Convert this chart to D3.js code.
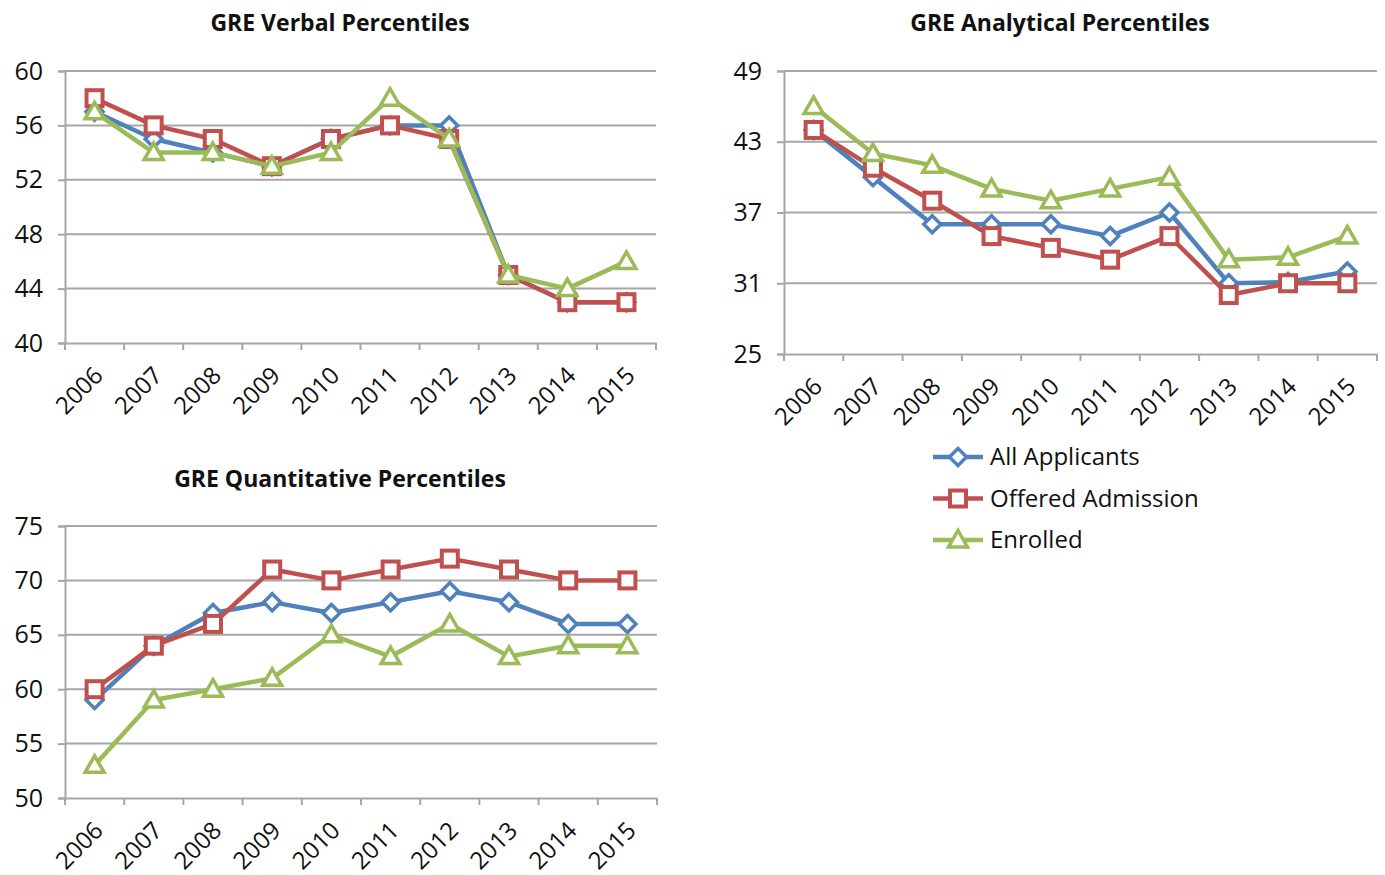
<!DOCTYPE html>
<html lang="en">
<head>
  <meta charset="UTF-8">
  <title>GRE Percentiles</title>
  <script src="https://d3js.org/d3.v7.min.js"></script>
  <style>
    html, body { margin: 0; padding: 0; background: #fff; }
    svg text { font-family: "Open Sans", Lato, sans-serif; fill: #111; }
    .title { font-weight: bold; font-size: 23px; }
    .tick text { font-size: 25px; }
    .x-axis .tick text { font-size: 24px; }
  </style>
</head>
<body>
  <div id="container"></div>
  <script>
    // data
    const years = ['2006','2007','2008','2009','2010','2011','2012','2013','2014','2015'];
    const seriesNames = ['All Applicants', 'Offered Admission', 'Enrolled'];

    const verbalAll      = [57, 55, 54, 53, 55, 56, 56, 45, 43, 43];
    const verbalOffered  = [58, 56, 55, 53, 55, 56, 55, 45, 43, 43];
    const verbalEnrolled = [57, 54, 54, 53, 54, 58, 55, 45, 44, 46];
    const verbalTicks    = [40, 44, 48, 52, 56, 60];

    const analyticalAll      = [44, 40, 36, 36, 36, 35, 37, 31, 31.1, 32];
    const analyticalOffered  = [44, 40.8, 38, 35, 34, 33, 35, 30, 31, 31];
    const analyticalEnrolled = [46, 42, 41, 39, 38, 39, 40, 33, 33.2, 35];
    const analyticalTicks    = [25, 31, 37, 43, 49];

    const quantAll      = [59, 64, 67, 68, 67, 68, 69, 68, 66, 66];
    const quantOffered  = [60, 64, 66, 71, 70, 71, 72, 71, 70, 70];
    const quantEnrolled = [53, 59, 60, 61, 65, 63, 66, 63, 64, 64];
    const quantTicks    = [50, 55, 60, 65, 70, 75];

    const colors = ['#4f81bd', '#c0504d', '#9bbb59'];
    const shapes = ['diamond', 'square', 'triangle'];

    const width = 1385, height = 875;
    const svg = d3.select('#container').append('svg')
      .attr('width', width).attr('height', height);

    function marker(g, shape, color, x, y) {
      if (shape === 'diamond') {
        g.append('path').attr('d', `M${x},${y-8.5}L${x+8.5},${y}L${x},${y+8.5}L${x-8.5},${y}Z`)
          .attr('fill', '#fff').attr('stroke', color).attr('stroke-width', 3.5)
      } else if (shape === 'square') {
        g.append('rect').attr('x', x-8).attr('y', y-8).attr('width', 16).attr('height', 16)
          .attr('fill', '#fff').attr('stroke', color).attr('stroke-width', 4)
      } else {
        g.append('path').attr('d', `M${x},${y-9.5}L${x+9.5},${y+7}L${x-9.5},${y+7}Z`)
          .attr('fill', '#fff').attr('stroke', color).attr('stroke-width', 3.5)
          .attr('stroke-linejoin', 'miter')
      }
    }

    function drawChart(opts) {
      const { left, right, top, bottom, title, titleX, titleY, ticks, series } = opts;
      const g = svg.append('g');
      const x = d3.scaleBand().domain(years).range([left, right]);
      const y = d3.scaleLinear().domain([ticks[0], ticks[ticks.length-1]]).range([bottom, top]);

      g.append('text').attr('class', 'title').attr('x', titleX).attr('y', titleY)
        .attr('text-anchor', 'middle').text(title);

      // gridlines
      g.append('g').selectAll('line').data(ticks.slice(1)).join('line')
        .attr('x1', left).attr('x2', right)
        .attr('y1', d => y(d)).attr('y2', d => y(d))
        .attr('stroke', '#a6a6a6').attr('stroke-width', 2);

      // y axis
      const yAxis = g.append('g').attr('transform', `translate(${left},0)`)
        .call(d3.axisLeft(y).tickValues(ticks).tickSize(7).tickPadding(15));
      yAxis.select('.domain').attr('stroke', '#a6a6a6').attr('stroke-width', 2);
      yAxis.selectAll('.tick line').attr('stroke', '#a6a6a6').attr('stroke-width', 2);

      // x axis with ticks at category boundaries
      const xAxis = g.append('g').attr('class', 'x-axis').attr('transform', `translate(0,${bottom})`)
        .call(d3.axisBottom(x).tickSize(0).tickPadding(0));
      xAxis.select('.domain').attr('stroke', '#a6a6a6').attr('stroke-width', 2);
      xAxis.selectAll('.tick text')
        .attr('text-anchor', 'end')
        .attr('dy', '0.35em')
        .attr('transform', 'translate(4,28) rotate(-45)');
      const bounds = years.map(d => x(d)).concat([right]);
      xAxis.append('g').selectAll('line').data(bounds).join('line')
        .attr('x1', d => d).attr('x2', d => d).attr('y1', 0).attr('y2', 7)
        .attr('stroke', '#a6a6a6').attr('stroke-width', 2);

      const line = d3.line().x((d, i) => x(years[i]) + x.bandwidth() / 2).y(d => y(d));
      series.forEach((s, k) => {
        g.append('path').datum(s).attr('d', line)
          .attr('fill', 'none').attr('stroke', colors[k]).attr('stroke-width', 4.5)
          .attr('stroke-linejoin', 'round');
        s.forEach((v, i) => marker(g, shapes[k], colors[k], x(years[i]) + x.bandwidth() / 2, y(v)));
      });
    }

    drawChart({ left: 65, right: 656, top: 71, bottom: 343, title: 'GRE Verbal Percentiles',
      titleX: 340, titleY: 31, ticks: verbalTicks, series: [verbalAll, verbalOffered, verbalEnrolled] });
    drawChart({ left: 784, right: 1377, top: 71, bottom: 354, title: 'GRE Analytical Percentiles',
      titleX: 1060, titleY: 31, ticks: analyticalTicks, series: [analyticalAll, analyticalOffered, analyticalEnrolled] });
    drawChart({ left: 65, right: 657, top: 526, bottom: 798, title: 'GRE Quantitative Percentiles',
      titleX: 340, titleY: 487, ticks: quantTicks, series: [quantAll, quantOffered, quantEnrolled] });

    // legend
    const legend = svg.append('g');
    seriesNames.forEach((name, k) => {
      const ly = 457 + k * 41.5;
      legend.append('line').attr('x1', 933).attr('x2', 983).attr('y1', ly).attr('y2', ly)
        .attr('stroke', colors[k]).attr('stroke-width', 4.5);
      marker(legend, shapes[k], colors[k], 958, ly);
      legend.append('text').attr('x', 990).attr('y', ly).attr('dy', '0.35em')
        .style('font-size', '24px').text(name);
    });
  </script>
</body>
</html>
